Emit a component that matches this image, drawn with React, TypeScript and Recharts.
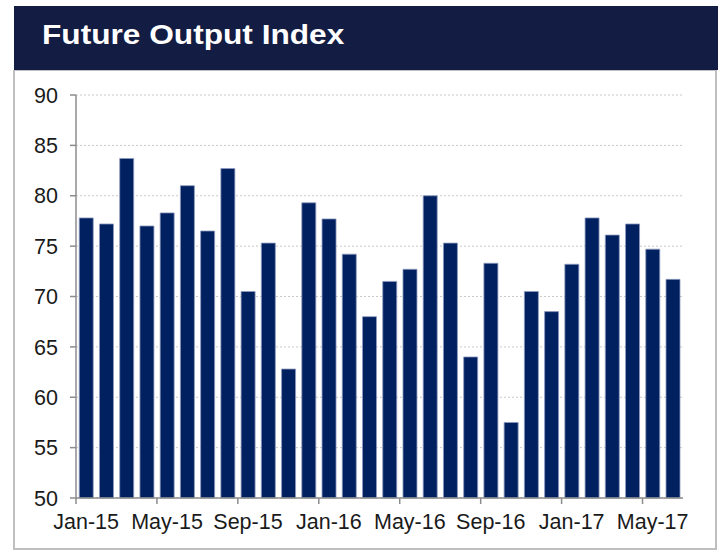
import { Bar, BarChart, CartesianGrid, XAxis, YAxis } from "recharts"

const months = [
  "Jan-15", "Feb-15", "Mar-15", "Apr-15", "May-15", "Jun-15", "Jul-15", "Aug-15", "Sep-15", "Oct-15", "Nov-15", "Dec-15",
  "Jan-16", "Feb-16", "Mar-16", "Apr-16", "May-16", "Jun-16", "Jul-16", "Aug-16", "Sep-16", "Oct-16", "Nov-16", "Dec-16",
  "Jan-17", "Feb-17", "Mar-17", "Apr-17", "May-17", "Jun-17",
]

const indexValues = [
  77.8, 77.2, 83.7, 77.0, 78.3, 81.0, 76.5, 82.7, 70.5, 75.3, 62.8, 79.3,
  77.7, 74.2, 68.0, 71.5, 72.7, 80.0, 75.3, 64.0, 73.3, 57.5, 70.5, 68.5,
  73.2, 77.8, 76.1, 77.2, 74.7, 71.7,
]

const yTicks = [50, 55, 60, 65, 70, 75, 80, 85, 90]

const data = months.map((m, i) => ({ month: m, value: indexValues[i] }))

const FONT = "'Liberation Sans', Arial, sans-serif"
const CHART_W = 725
const Y_AXIS_W = 76
const RIGHT_MARGIN = 42
const halfBand = (CHART_W - Y_AXIS_W - RIGHT_MARGIN) / data.length / 2

function MonthTick(props: any) {
  const { x, y, payload } = props
  return (
    <g>
      <line x1={x - halfBand} x2={x - halfBand} y1={y} y2={y + 6} stroke="#8c8c8c" strokeWidth={1.5} />
      <text x={x} y={y + 31} textAnchor="middle" fontSize={21.5} fill="#1a1a1a" fontFamily={FONT}>
        {payload.value}
      </text>
    </g>
  )
}

export default function App() {
  return (
    <div style={{ position: "absolute", left: 0, top: 0, width: 725, height: 551, background: "#fff", fontFamily: FONT }}>
      <div
        style={{
          position: "absolute",
          left: 14,
          top: 6,
          width: 704,
          height: 64,
          background: "#131c42",
        }}
      >
        <div
          style={{
            position: "absolute",
            left: 28,
            top: 13,
            color: "#fff",
            fontWeight: "bold",
            fontSize: 28,
            whiteSpace: "nowrap",
            transform: "scaleX(1.13)",
            transformOrigin: "left center",
          }}
        >
          Future Output Index
        </div>
      </div>
      <div
        style={{
          position: "absolute",
          left: 13,
          top: 70,
          width: 700,
          height: 477,
          borderLeft: "2px solid #bfbfbf",
          borderRight: "2px solid #bfbfbf",
          borderBottom: "2px solid #bfbfbf",
          borderTop: "1px solid #bfbfbf",
        }}
      />
      <div style={{ position: "absolute", left: 0, top: 70 }}>
        <BarChart
          width={CHART_W}
          height={481}
          data={data}
          margin={{ top: 25, right: RIGHT_MARGIN, left: 0, bottom: 0 }}
          barCategoryGap="16%"
        >
          <CartesianGrid vertical={false} stroke="#c8c8c8" strokeDasharray="2 2" />
          <XAxis
            dataKey="month"
            interval={3}
            height={53}
            tickLine={false}
            tickSize={0}
            tickMargin={0}
            axisLine={{ stroke: "#8c8c8c", strokeWidth: 1.5 }}
            tick={<MonthTick />}
          />
          <YAxis
            width={Y_AXIS_W}
            domain={[50, 90]}
            ticks={yTicks}
            interval={0}
            tickSize={6}
            tickMargin={12}
            axisLine={{ stroke: "#8c8c8c", strokeWidth: 1.5 }}
            tickLine={{ stroke: "#8c8c8c", strokeWidth: 1.5 }}
            tick={{ fontSize: 21.5, fill: "#1a1a1a", fontFamily: FONT }}
          />
          <Bar dataKey="value" fill="#002060" stroke="#8f9bbf" strokeWidth={0.8} isAnimationActive={false} />
        </BarChart>
      </div>
    </div>
  )
}
